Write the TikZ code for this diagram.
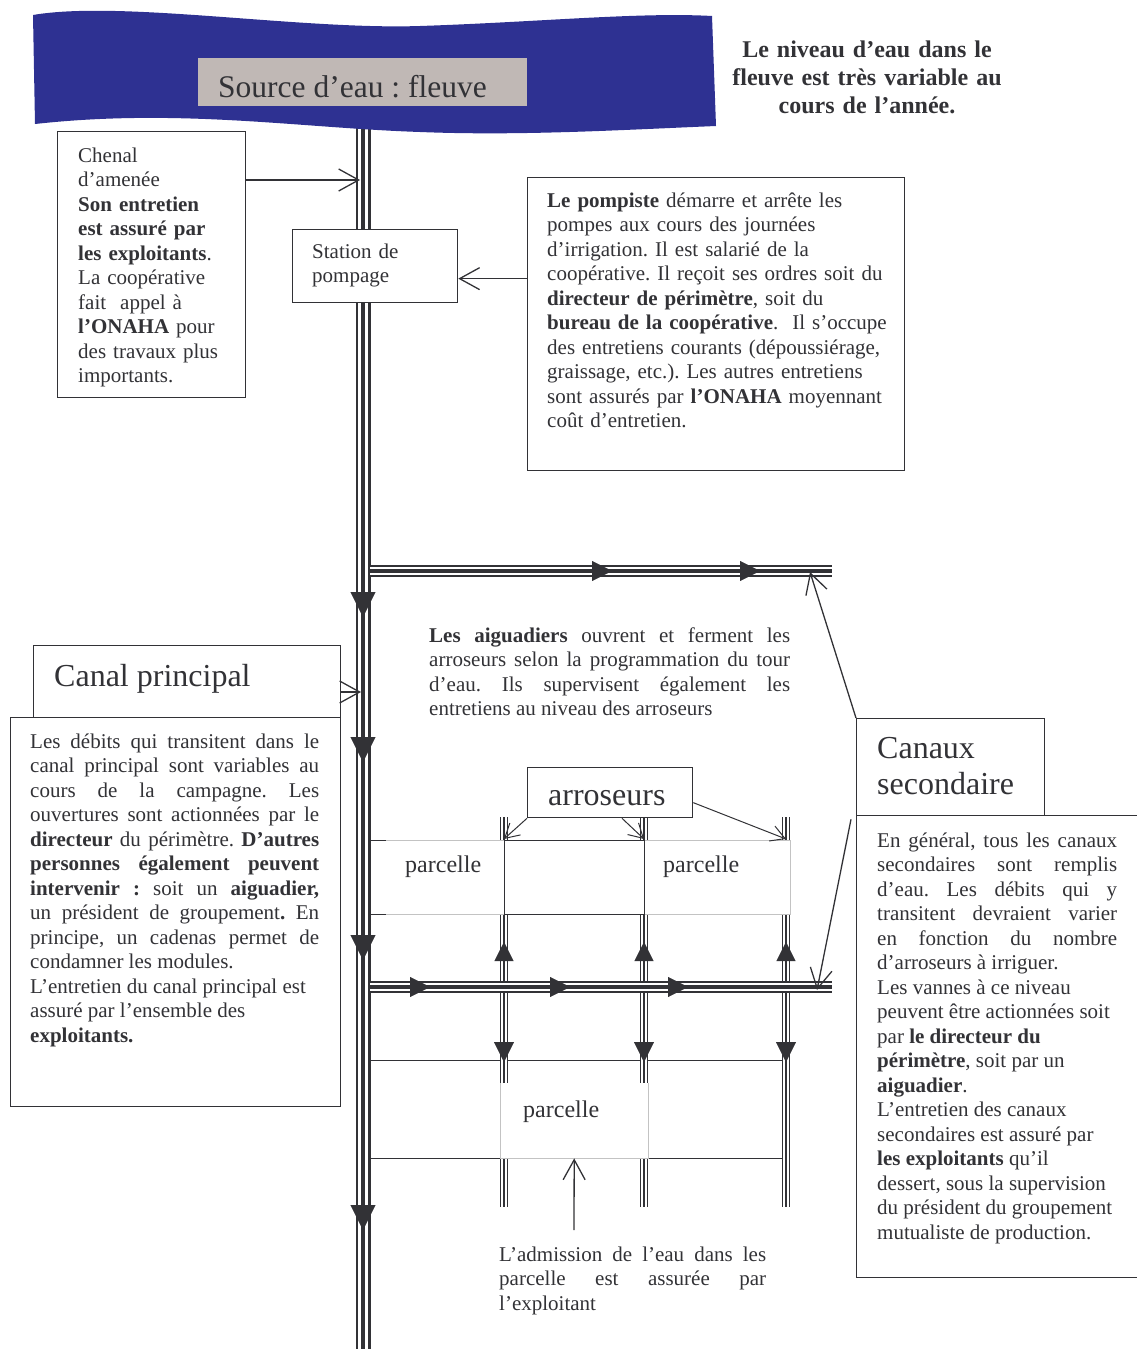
\documentclass[tikz,border=0pt]{standalone}
\usepackage{fontspec}
\setmainfont{Liberation Serif}
\usetikzlibrary{arrows.meta}

\definecolor{ink}{RGB}{50,50,54}
\definecolor{river}{RGB}{46,49,146}
\definecolor{stone}{RGB}{192,184,181}
\definecolor{plot}{RGB}{195,195,195}

\setlength{\parindent}{0pt}
\tolerance=10000
\hyphenpenalty=10000
\frenchspacing

\tikzset{
  canal/.style={draw=ink, line width=#1,
    postaction={draw=white, line width=#1*0.64},
    postaction={draw=ink, line width=#1*0.32}},
  flow/.style={draw=ink, line width=0.4pt, -{Triangle[length=#1, width=#1]}},
  field/.style={draw=ink, line width=1pt},
  box/.style={draw=ink, line width=1.3pt, fill=white, inner sep=0pt, anchor=north west},
  plotbox/.style={fill=white, inner sep=0pt, anchor=north west},
  edge/.style={draw=plot, line width=0.8pt},
  txt/.style={text=ink, inner sep=0pt, anchor=base west, align=left, font=\fontsize{21}{24.5}\selectfont},
  para/.style={txt, text width=#1, align=justify},
  big/.style={text=ink, inner sep=0pt, anchor=base west, font=\fontsize{32}{36.5}\selectfont},
  callout/.style={draw=ink, line width=1.3pt, -{Straight Barb[length=20pt, width=22pt]}},
  pointer/.style={draw=ink, line width=1pt, -{Straight Barb[length=14pt, width=16pt]}}
}

\begin{document}
\begin{tikzpicture}[x=1pt, y=-1pt]
  \useasboundingbox (0,0) rectangle (1136,1349);

  \coordinate (m0) at (363,120);
  \coordinate (m1) at (363,1360);
  \coordinate (s1L) at (370,571);
  \coordinate (s1R) at (832,571);
  \coordinate (s2L) at (370,987);
  \coordinate (s2R) at (832,987);
  \coordinate (a1T) at (504,817);
  \coordinate (a1B) at (504,1207);
  \coordinate (a2T) at (644,817);
  \coordinate (a2B) at (644,1207);
  \coordinate (a3T) at (786,817);
  \coordinate (a3B) at (786,1207);

  % field limits
  \draw[field] (370,840) -- (786,840);
  \draw[field] (370,914) -- (786,914);
  \draw[field] (370,1060) -- (786,1060);
  \draw[field] (370,1158) -- (786,1158);

  % canals
  \draw[canal=15pt] (m0) -- (m1);
  \draw[canal=12pt] (s1L) -- (s1R);
  \draw[canal=8pt] (a1T) -- (a1B);
  \draw[canal=8pt] (a2T) -- (a2B);
  \draw[canal=8pt] (a3T) -- (a3B);
  \draw[canal=12pt] (s2L) -- (s2R);

  \draw[flow=25pt] (363,592) -- (363,617);
  \draw[flow=25pt] (363,737) -- (363,762);
  \draw[flow=25pt] (363,935) -- (363,960);
  \draw[flow=25pt] (363,1205) -- (363,1230);
  \draw[flow=20pt] (592,571) -- (612,571);
  \draw[flow=20pt] (740,571) -- (760,571);
  \draw[flow=20pt] (410,987) -- (430,987);
  \draw[flow=20pt] (550,987) -- (570,987);
  \draw[flow=20pt] (668,987) -- (688,987);
  \draw[flow=19pt] (504,961) -- (504,942);
  \draw[flow=19pt] (644,961) -- (644,942);
  \draw[flow=19pt] (786,961) -- (786,942);
  \draw[flow=20pt] (504,1042) -- (504,1062);
  \draw[flow=20pt] (644,1042) -- (644,1062);
  \draw[flow=20pt] (786,1042) -- (786,1062);

  % parcelles
  \node[plotbox, minimum width=118pt, minimum height=74pt] (p1) at (386,840) {};
  \draw[edge] (p1.north west) -- (p1.north east) (p1.south west) -- (p1.south east);
  \node[plotbox, minimum width=146pt, minimum height=74pt] (p2) at (644,840) {};
  \draw[edge] (p2.north west) -- (p2.north east) -- (p2.south east) -- (p2.south west);
  \draw[field, fill=white] (504,840) rectangle (644,914);
  \node[plotbox, minimum width=148pt, minimum height=75pt] (p3) at (500,1083) {};
  \draw[edge] (p3.north west) -- (p3.south west) -- (p3.south east) -- (p3.north east);
  \node[txt, font=\fontsize{24}{28}\selectfont] (l1) at (405,872) {parcelle};
  \node[txt, font=\fontsize{24}{28}\selectfont] (l2) at (663,872) {parcelle};
  \node[txt, font=\fontsize{24}{28}\selectfont] (l3) at (523,1117) {parcelle};

  % river
  \fill[river] (33,15) .. controls (120,0) and (300,30) .. (420,26)
    .. controls (540,22) and (640,12) .. (712,16) -- (716,126)
    .. controls (620,130) and (520,136) .. (420,132)
    .. controls (300,128) and (180,108) .. (35,124) -- cycle;
  \node[fill=stone, inner sep=0pt, anchor=north west, minimum width=329pt, minimum height=48pt] (source) at (198,58) {};
  \node[big, font=\fontsize{31.5}{36}\selectfont] (sourcetxt) at (218,97) {Source d’eau : fleuve};

  \node[txt, anchor=base, text width=300pt, align=center, font=\bfseries\fontsize{24}{28}\selectfont] (niveau) at (867,57)
    {Le niveau d’eau dans le\\ fleuve est très variable au\\ cours de l’année.};

  % chenal
  \node[box, minimum width=188pt, minimum height=266pt] (chenal) at (57,131) {};
  \node[txt, text width=165pt] (chenaltxt) at (78,162)
    {Chenal\\ d’amenée\\ \textbf{Son entretien}\\ \textbf{est assuré par}\\ \textbf{les exploitants}.\\
     La coopérative\\ fait\ \ appel à\\ \textbf{l’ONAHA} pour\\ des travaux plus\\ importants.};
  \coordinate (feed) at (360,180);
  \draw[callout] (chenal.east |- feed) -- (feed);

  % station
  \node[box, minimum width=165pt, minimum height=73pt] (station) at (292,229) {};
  \node[txt, text width=140pt] (stationtxt) at (312,258) {Station de\\ pompage};

  \node[box, minimum width=377pt, minimum height=293pt] (pompiste) at (527,177) {};
  \node[txt, text width=350pt] (pompistetxt) at (547,207)
    {\textbf{Le pompiste} démarre et arrête les\\
     pompes aux cours des journées\\
     d’irrigation. Il est salarié de la\\
     coopérative. Il reçoit ses ordres soit du\\
     \textbf{directeur de périmètre}, soit du\\
     \textbf{bureau de la coopérative}.\ \ Il s’occupe\\
     des entretiens courants (dépoussiérage,\\
     graissage, etc.). Les autres entretiens\\
     sont assurés par \textbf{l’ONAHA} moyennant\\
     coût d’entretien.};
  \coordinate (pump) at ([yshift=-12.5pt]station.east);
  \draw[callout] (pompiste.west |- pump) -- (pump);

  \node[para=361pt] (aiguadiers) at (429,642)
    {\textbf{Les aiguadiers} ouvrent et ferment les\linebreak
     arroseurs selon la programmation du tour\linebreak
     d’eau. Ils supervisent également les\linebreak
     entretiens au niveau des arroseurs};

  % canal principal
  \node[box, minimum width=330pt, minimum height=389pt] (cpbody) at (10,717) {};
  \node[box, minimum width=307pt, minimum height=72pt] (cptitle) at (33,645) {};
  \node[big] (cptitletxt) at (54,686) {Canal principal};
  \node[para=289pt] (cpbodytxt) at (30,748)
    {Les débits qui transitent dans le\linebreak
     canal principal sont variables au\linebreak
     cours de la campagne. Les\linebreak
     ouvertures sont actionnées par le\linebreak
     \textbf{directeur} du périmètre. \textbf{D’autres}\linebreak
     \textbf{personnes également peuvent}\linebreak
     \textbf{intervenir :} soit un \textbf{aiguadier,}\linebreak
     un président de groupement\textbf{.} En\linebreak
     principe, un cadenas permet de\linebreak
     condamner les modules.\newline
     L’entretien du canal principal est\newline
     assuré par l’ensemble des\newline
     \textbf{exploitants.}};
  \coordinate (cpfeed) at (361,692);
  \draw[callout] (cptitle.east |- cpfeed) -- (cpfeed);

  % arroseurs
  \node[box, minimum width=165pt, minimum height=50pt] (arrbox) at (527,767) {};
  \node[big] (arrtxt) at (548,805) {arroseurs};
  \draw[pointer] (arrbox.south west) -- ([yshift=-22pt]a1T);
  \draw[pointer] ([xshift=95pt]arrbox.south west) -- ([yshift=-22pt]a2T);
  \draw[pointer] ([yshift=-10pt]arrbox.east) -- ([yshift=-22pt]a3T);

  % canaux secondaires
  \node[box, minimum width=300pt, minimum height=462pt] (csbody) at (856,815) {};
  \node[box, minimum width=188pt, minimum height=97pt] (cstitle) at (856,718) {};
  \node[big, text width=180pt, align=left] (cstitletxt) at (877,758) {Canaux\\ secondaire};
  \node[para=240pt] (csbodytxt) at (877,847)
    {En général, tous les canaux\linebreak
     secondaires sont remplis\linebreak
     d’eau. Les débits qui y\linebreak
     transitent devraient varier\linebreak
     en fonction du nombre\linebreak
     d’arroseurs à irriguer.\newline
     Les vannes à ce niveau\newline
     peuvent être actionnées soit\newline
     par \textbf{le directeur du}\newline
     \textbf{périmètre}, soit par un\newline
     \textbf{aiguadier}.\newline
     L’entretien des canaux\newline
     secondaires est assuré par\newline
     \textbf{les exploitants} qu’il\newline
     dessert, sous la supervision\newline
     du président du groupement\newline
     mutualiste de production.};
  \coordinate (s1tip) at (810,572);
  \coordinate (s2tip) at (817,990);
  \draw[callout] (cstitle.north west) -- (s1tip);
  \draw[callout] ([xshift=-5pt, yshift=-3pt]cstitle.south west) -- (s2tip);

  % admission
  \node[para=267pt] (admission) at (499,1261)
    {L’admission de l’eau dans les\linebreak
     parcelle est assurée par\linebreak
     l’exploitant};
  \coordinate (adm0) at (574,1230);
  \draw[callout] (adm0) -- (p3.south);
\end{tikzpicture}
\end{document}
